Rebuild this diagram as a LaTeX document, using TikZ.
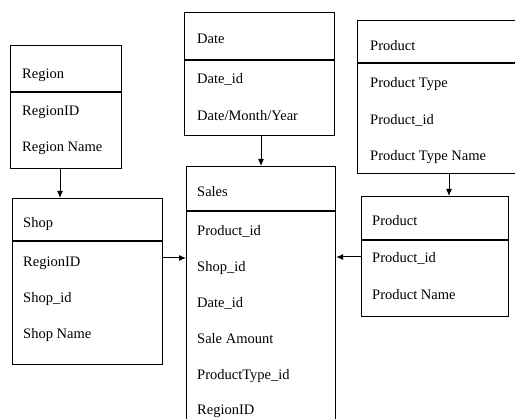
\documentclass[tikz,border=0pt]{standalone}
\usepackage{fontspec}
\setmainfont{Liberation Serif}
\usetikzlibrary{arrows.meta}
\begin{document}
\begin{tikzpicture}[x=1pt,y=-1pt,
  box/.style={draw=black,line width=1.2pt,rectangle,inner sep=0pt,anchor=north west},
  divider/.style={line width=1.2pt},
  field/.style={anchor=west,inner sep=0pt,text height=9.5pt,text depth=2.5pt,font=\fontsize{14.5}{16}\selectfont},
  arr/.style={line width=1pt,-{Latex[length=7pt,width=6pt]}}]
\useasboundingbox (0,0) rectangle (515,419);
\clip (0,0) rectangle (515,419);
% Region
\node[box,minimum width=111pt,minimum height=123pt] (region) at (10,45) {};
\draw[divider] (region.west |- 0,92) -- (region.east |- 0,92);
\node[field] (regT) at (22,75) {Region};
\node[field] (reg1) at (22,112) {RegionID};
\node[field] (reg2) at (22,148) {Region Name};
% Date
\node[box,minimum width=150pt,minimum height=123pt] (date) at (184,12) {};
\draw[divider] (date.west |- 0,60) -- (date.east |- 0,60);
\node[field] (datT) at (197,40) {Date};
\node[field] (dat1) at (197,80) {Date\_id};
\node[field] (dat2) at (197,117) {Date/Month/Year};
% Product (type)
\node[box,minimum width=170pt,minimum height=153pt] (ptype) at (357,20) {};
\draw[divider] (ptype.west |- 0,63) -- (ptype.east |- 0,63);
\node[field] (ptT) at (370,47) {Product};
\node[field] (pt1) at (370,84) {Product Type};
\node[field] (pt2) at (370,121) {Product\_id};
\node[field] (pt3) at (370,157) {Product Type Name};
% Shop
\node[box,minimum width=150pt,minimum height=166pt] (shop) at (12,198) {};
\draw[divider] (shop.west |- 0,241) -- (shop.east |- 0,241);
\node[field] (shT) at (23,224) {Shop};
\node[field] (sh1) at (23,263) {RegionID};
\node[field] (sh2) at (23,299) {Shop\_id};
\node[field] (sh3) at (23,335) {Shop Name};
% Sales
\node[box,minimum width=149pt,minimum height=280pt] (sales) at (186,166) {};
\draw[divider] (sales.west |- 0,211) -- (sales.east |- 0,211);
\node[field] (saT) at (197,193) {Sales};
\node[field] (sa1) at (197,232) {Product\_id};
\node[field] (sa2) at (197,268) {Shop\_id};
\node[field] (sa3) at (197,304) {Date\_id};
\node[field] (sa4) at (197,340) {Sale Amount};
\node[field] (sa5) at (197,376) {ProductType\_id};
\node[field] (sa6) at (197,411) {RegionID};
% Product
\node[box,minimum width=147pt,minimum height=120pt] (prod) at (361,196) {};
\draw[divider] (prod.west |- 0,240) -- (prod.east |- 0,240);
\node[field] (prT) at (372,222) {Product};
\node[field] (pr1) at (372,259) {Product\_id};
\node[field] (pr2) at (372,296) {Product Name};
% connectors
\coordinate (xa) at (60,0);
\coordinate (xb) at (261,0);
\coordinate (xc) at (449,0);
\coordinate (ya) at (0,258);
\coordinate (yb) at (0,257);
\draw[arr] (region.south -| xa) -- (shop.north -| xa);
\draw[arr] (date.south -| xb) -- (sales.north -| xb);
\draw[arr] (ptype.south -| xc) -- (prod.north -| xc);
\draw[arr] (shop.east |- ya) -- (sales.west |- ya);
\draw[arr] (prod.west |- yb) -- (sales.east |- yb);
\end{tikzpicture}
\end{document}
